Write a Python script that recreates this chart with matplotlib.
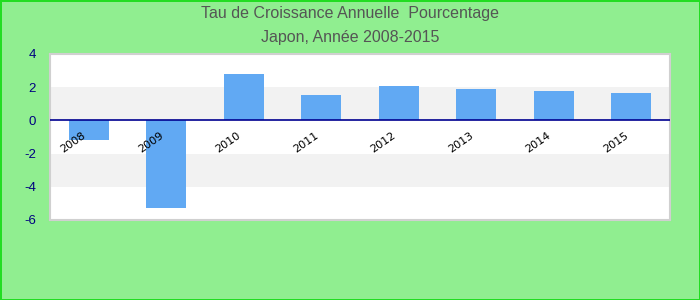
import matplotlib.pyplot as plt
import numpy as np

plt.rcParams['font.family'] = ['Liberation Sans', 'DejaVu Sans']
plt.rcParams['axes.unicode_minus'] = False

years = ['2008', '2009', '2010', '2011', '2012', '2013', '2014', '2015']
growth = [-1.2, -5.3, 2.8, 1.5, 2.05, 1.9, 1.75, 1.65]
y_ticks = [-6, -4, -2, 0, 2, 4]
gray_bands = [(0, 2), (-4, -2)]

fig = plt.figure(figsize=(7, 3), dpi=100, facecolor='#90ee90',
                 edgecolor='#22dd22', linewidth=2)
ax = fig.add_axes([50 / 700, 80 / 300, 620 / 700, 166 / 300])
ax.set_facecolor('white')

x = np.arange(len(years))
for lo, hi in gray_bands:
    ax.axhspan(lo, hi, color='#f2f2f2', lw=0, zorder=0)
ax.bar(x, growth, width=0.52, color='#61a9f3', zorder=2)
ax.axhline(0, color='#000090', lw=1.2, zorder=3)

ax.set_xlim(-0.5, len(years) - 0.5)
ax.set_ylim(-6, 4)
ax.set_xticks([])
ax.set_yticks(y_ticks)
ax.tick_params(axis='y', length=0, pad=10, labelsize=9.5, labelcolor='#000080')

for i, yr in enumerate(years):
    ax.text(i - 0.2, -1.35, yr, rotation=35, ha='center', va='center',
            rotation_mode='anchor', fontsize=8, color='black',
            family='DejaVu Sans', zorder=4)

for s in ax.spines.values():
    s.set_color('#d0d0d0')
    s.set_linewidth(1.5)

fig.text(0.5, 0.955, "Tau de Croissance Annuelle  Pourcentage", ha='center',
         va='center', fontsize=11.5, color='#555555')
fig.text(0.5, 0.875, "Japon, Année 2008-2015", ha='center', va='center',
         fontsize=11.5, color='#555555')

fig.savefig('out.png', dpi=100, facecolor=fig.get_facecolor(),
            edgecolor=fig.get_edgecolor())
